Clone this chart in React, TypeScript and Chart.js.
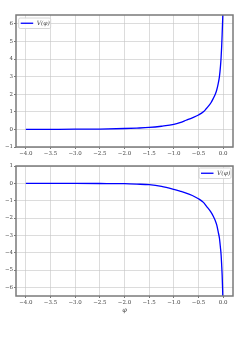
import React, { useEffect, useRef } from "react";
import { Chart, registerables } from "chart.js";

Chart.register(...registerables);

const phi = [-4.0, -3.5, -3.0, -2.5, -2.0, -1.75, -1.5, -1.25, -1.0, -0.875, -0.75, -0.625, -0.5, -0.4, -0.336, -0.25, -0.2, -0.16, -0.13, -0.1, -0.075, -0.055, -0.041, -0.03, -0.02, -0.012, -0.007, -0.004];
const vTop = [0.0, 0.005, 0.01, 0.02, 0.05, 0.075, 0.11, 0.18, 0.28, 0.38, 0.52, 0.66, 0.82, 1.0, 1.2, 1.5, 1.76, 2.0, 2.24, 2.6, 3.0, 3.55, 4.1, 4.7, 5.4, 6.05, 6.5, 7.0];
const vBottom = [0.0, -0.003, -0.005, -0.01, -0.02, -0.045, -0.08, -0.18, -0.35, -0.45, -0.56, -0.7, -0.89, -1.1, -1.33, -1.65, -1.9, -2.15, -2.4, -2.8, -3.17, -3.7, -4.13, -4.7, -5.29, -6.0, -6.5, -7.0];
const xTicks = [-4.0, -3.5, -3.0, -2.5, -2.0, -1.5, -1.0, -0.5, 0.0];
const yTicksTop = [-1, 0, 1, 2, 3, 4, 5, 6];
const yTicksBottom = [-6, -5, -4, -3, -2, -1, 0, 1];
const seriesLabel = "V(φ)";
const xLabel = "φ";

const fmtX = (v: number) => v.toFixed(1).replace("-", "\u2212");
const fmtY = (v: number) => String(v).replace("-", "\u2212");

const framePlugin = {
  id: "frame",
  afterDatasetsDraw(chart: any, _args: any, opts: any) {
    const { ctx, chartArea } = chart;
    const { left, top, right, bottom } = chartArea;
    ctx.save();
    ctx.strokeStyle = "#7a7a7a";
    ctx.lineWidth = 1.5;
    ctx.strokeRect(left, top, right - left, bottom - top);
    const w = 32;
    const h = 10.5;
    const bx = opts.side === "left" ? left + 2.7 : right - 2 - w;
    const by = opts.side === "left" ? top + 3 : top + 2;
    ctx.fillStyle = "rgba(255,255,255,0.9)";
    ctx.strokeStyle = "#cccccc";
    ctx.lineWidth = 0.8;
    ctx.beginPath();
    if (ctx.roundRect) ctx.roundRect(bx, by, w, h, 1.5);
    else ctx.rect(bx, by, w, h);
    ctx.fill();
    ctx.stroke();
    ctx.strokeStyle = "#0000ff";
    ctx.lineWidth = 1.3;
    ctx.beginPath();
    ctx.moveTo(bx + 2, by + h / 2);
    ctx.lineTo(bx + 14.5, by + h / 2);
    ctx.stroke();
    ctx.fillStyle = "#444";
    ctx.font = "italic 6px 'DejaVu Serif'";
    ctx.textBaseline = "middle";
    ctx.textAlign = "left";
    ctx.fillText(chart.data.datasets[0].label, bx + 18, by + h / 2);
    ctx.restore();
  },
};

function makeConfig(values: number[], yTicks: number[], ymin: number, ymax: number, side: string, showTitle: boolean, pad: any, xHeight: number) {
  const tickFont = { family: "'DejaVu Serif'", size: 5.5 };
  const grid = {
    color: "#c4c4c4",
    lineWidth: 0.6,
    borderDash: [1, 1.2],
    tickLength: 2,
    tickColor: "#555",
    tickBorderDash: [],
    tickWidth: 0.8,
  };
  return {
    type: "scatter" as const,
    data: {
      datasets: [
        {
          label: seriesLabel,
          data: phi.map((x, i) => ({ x, y: values[i] })),
          showLine: true,
          borderColor: "#0000ff",
          backgroundColor: "#0000ff",
          borderWidth: 1.3,
          pointRadius: 0,
          cubicInterpolationMode: "monotone",
        },
      ],
    },
    options: {
      animation: false,
      responsive: false,
      maintainAspectRatio: false,
      layout: { padding: pad },
      plugins: {
        legend: { display: false },
        tooltip: { enabled: false },
        frame: { side },
      },
      scales: {
        x: {
          type: "linear",
          min: -4.2,
          max: 0.2,
          afterBuildTicks: (s: any) => {
            s.ticks = xTicks.map((v) => ({ value: v }));
          },
          afterFit: (s: any) => {
            s.height = xHeight;
          },
          ticks: {
            callback: (v: any) => fmtX(Number(v)),
            font: tickFont,
            color: "#444",
            padding: 1,
            maxRotation: 0,
            autoSkip: false,
          },
          grid,
          border: { display: false },
          title: {
            display: showTitle,
            text: xLabel,
            font: { family: "'DejaVu Serif'", size: 6.5, style: "italic" },
            color: "#444",
            padding: 0,
          },
        },
        y: {
          type: "linear",
          min: ymin,
          max: ymax,
          afterBuildTicks: (s: any) => {
            s.ticks = yTicks.map((v) => ({ value: v }));
          },
          afterFit: (s: any) => {
            s.width = 16;
          },
          ticks: {
            callback: (v: any) => fmtY(Number(v)),
            font: tickFont,
            color: "#444",
            padding: 1,
            autoSkip: false,
          },
          grid,
          border: { display: false },
        },
      },
    },
    plugins: [framePlugin],
  };
}

export default function App() {
  const ref1 = useRef<HTMLCanvasElement>(null);
  const ref2 = useRef<HTMLCanvasElement>(null);
  useEffect(() => {
    const c1 = new Chart(
      ref1.current as HTMLCanvasElement,
      makeConfig(vTop, yTicksTop, -1, 6.5, "left", false, { left: 0, right: 12, top: 15, bottom: 0 }, 11) as any
    );
    const c2 = new Chart(
      ref2.current as HTMLCanvasElement,
      makeConfig(vBottom, yTicksBottom, -6.5, 1, "right", true, { left: 0, right: 12, top: 8, bottom: 44 }, 18) as any
    );
    return () => {
      c1.destroy();
      c2.destroy();
    };
  }, []);
  return (
    <div style={{ position: "fixed", left: 0, top: 0, width: 245, height: 358, background: "#fff" }}>
      <canvas ref={ref1} width={245} height={158} style={{ position: "absolute", left: 0, top: 0, width: 245, height: 158 }} />
      <canvas ref={ref2} width={245} height={200} style={{ position: "absolute", left: 0, top: 158, width: 245, height: 200 }} />
    </div>
  );
}
